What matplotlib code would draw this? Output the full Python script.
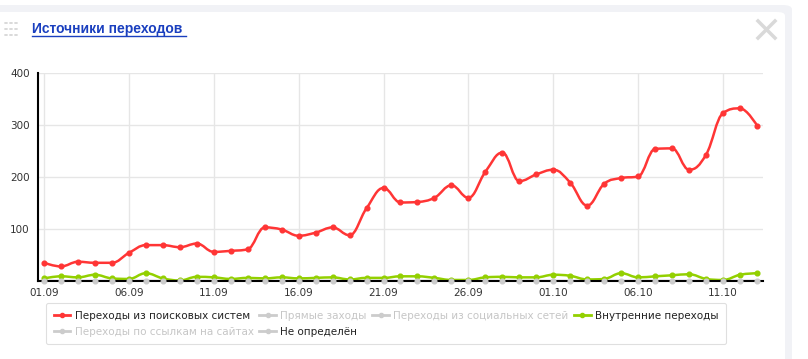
import matplotlib
matplotlib.use("Agg")
import matplotlib.pyplot as plt
import numpy as np
from matplotlib.lines import Line2D
from matplotlib.path import Path
from matplotlib.patches import PathPatch, FancyBboxPatch, Circle

# --- data -------------------------------------------------------------
days = ["01.09", "02.09", "03.09", "04.09", "05.09", "06.09", "07.09", "08.09",
        "09.09", "10.09", "11.09", "12.09", "13.09", "14.09", "15.09", "16.09",
        "17.09", "18.09", "19.09", "20.09", "21.09", "22.09", "23.09", "24.09",
        "25.09", "26.09", "27.09", "28.09", "29.09", "30.09", "01.10", "02.10",
        "03.10", "04.10", "05.10", "06.10", "07.10", "08.10", "09.10", "10.10",
        "11.10", "12.10", "13.10"]
weekend_labels = ["06.09", "26.09", "11.10"]

search = [35, 28, 37, 35, 35, 54, 69, 69, 65, 72, 56, 58, 61, 103, 99, 87,
          93, 103, 88, 140, 179, 151, 152, 160, 184, 160, 210, 247, 192, 205,
          214, 189, 145, 187, 198, 201, 254, 255, 214, 243, 323, 332, 299]
internal = [5, 9, 7, 12, 5, 4, 15, 5, 1, 8, 7, 4, 6, 5, 7, 5, 6, 7, 3, 6,
            6, 9, 9, 6, 2, 2, 7, 8, 7, 7, 12, 10, 3, 4, 15, 7, 9, 11, 13, 4,
            2, 12, 15]
undefined = [0] * len(days)

series_names = ["Переходы из поисковых систем", "Прямые заходы",
                "Переходы из социальных сетей", "Внутренние переходы",
                "Переходы по ссылкам на сайтах", "Не определён"]
hidden = ["Прямые заходы", "Переходы из социальных сетей",
          "Переходы по ссылкам на сайтах"]

RED = "#ff3535"
GREEN = "#93d000"
GREY = "#cccccc"
GRID = "#e6e6e6"

W, H = 808, 359


def spline_path(xs, ys, smoothing=1.5):
    """Cubic bezier path through the points, Highcharts-style spline."""
    denom = smoothing + 1
    n = len(xs)
    left = [(x, y) for x, y in zip(xs, ys)]
    right = [(x, y) for x, y in zip(xs, ys)]
    for i in range(1, n - 1):
        px, py = xs[i], ys[i]
        lx, ly = xs[i - 1], ys[i - 1]
        nx, ny = xs[i + 1], ys[i + 1]
        lcx = (smoothing * px + lx) / denom
        lcy = (smoothing * py + ly) / denom
        rcx = (smoothing * px + nx) / denom
        rcy = (smoothing * py + ny) / denom
        corr = (rcy - lcy) * (rcx - px) / (rcx - lcx) + py - rcy
        lcy += corr
        rcy += corr
        if lcy > ly and lcy > py:
            lcy = max(ly, py)
            rcy = 2 * py - lcy
        elif lcy < ly and lcy < py:
            lcy = min(ly, py)
            rcy = 2 * py - lcy
        if rcy > ny and rcy > py:
            rcy = max(ny, py)
            lcy = 2 * py - rcy
        elif rcy < ny and rcy < py:
            rcy = min(ny, py)
            lcy = 2 * py - rcy
        left[i] = (lcx, lcy)
        right[i] = (rcx, rcy)
    verts = [(xs[0], ys[0])]
    codes = [Path.MOVETO]
    for i in range(1, n):
        verts += [right[i - 1], left[i], (xs[i], ys[i])]
        codes += [Path.CURVE4] * 3
    return Path(verts, codes)


fig = plt.figure(figsize=(W / 100, H / 100), dpi=100)
fig.patch.set_facecolor("white")

# card background
fig.patches.append(FancyBboxPatch((-10 / W, -20 / H), 802 / W, 374 / H,
                                  boxstyle="round,pad=0,rounding_size=0.012",
                                  transform=fig.transFigure, fc="#f1f2f6", ec="none", zorder=-2))
fig.patches.append(FancyBboxPatch((-10 / W, -20 / H), 795 / W, 367 / H,
                                  boxstyle="round,pad=0,rounding_size=0.01",
                                  transform=fig.transFigure, fc="white", ec="none", zorder=-1))

# drag handle dots
for r in range(3):
    for c in range(3):
        fig.patches.append(Circle(((6 + 5 * c) / W, 1 - (23 + 6 * r) / H), 2 / W,
                                  transform=fig.transFigure, fc="#d4d4d4", ec="none"))

fig.text(32 / W, 1 - 29 / H, "Источники переходов", fontsize=10, fontweight="bold",
         family="Liberation Sans", color="#1a3fbf", va="center", ha="left")
fig.add_artist(Line2D([32 / W, 186 / W], [1 - 36 / H, 1 - 36 / H], color="#1a3fbf", lw=1))

# close cross
fig.add_artist(Line2D([758 / W, 775 / W], [1 - 21 / H, 1 - 38 / H], color="#d9d9d9", lw=2.5))
fig.add_artist(Line2D([758 / W, 775 / W], [1 - 38 / H, 1 - 21 / H], color="#d9d9d9", lw=2.5))

# --- plot -------------------------------------------------------------
ax = fig.add_axes([38 / W, 1 - 281 / H, 725 / W, 208 / H])
ax.set_facecolor("none")
x = np.arange(len(days))
n = len(days)
step = 713 / 42
ax.set_xlim(-6 / step, n - 1 + 6 / step)
ax.set_ylim(0, 400)

ax.add_patch(PathPatch(spline_path(x, undefined), fill=False, ec=GREY, lw=1.8, zorder=3))
ax.plot(x, undefined, ls="none", marker="o", ms=3.4, color=GREY, zorder=7, clip_on=False)
ax.add_patch(PathPatch(spline_path(x, internal), fill=False, ec=GREEN, lw=1.8, zorder=4))
ax.plot(x, internal, ls="none", marker="o", ms=3.4, color=GREEN, zorder=4, clip_on=False)
ax.add_patch(PathPatch(spline_path(x, search), fill=False, ec=RED, lw=1.8, zorder=5))
ax.plot(x, search, ls="none", marker="o", ms=3.4, color=RED, zorder=5, clip_on=False)

ax.set_yticks([0, 100, 200, 300, 400])
ax.set_yticklabels(["", "100", "200", "300", "400"])
major = x[::5]
ax.set_xticks(major)
ax.set_xticklabels([days[i] for i in major])
for lbl in ax.get_xticklabels():
    if lbl.get_text() in weekend_labels:
        lbl.set_color("#cc0000")

ax.grid(True, color=GRID, lw=1, zorder=0)
ax.set_axisbelow(True)
ax.tick_params(axis="y", length=0, pad=6, labelsize=7.5, labelcolor="#333333")
ax.tick_params(axis="x", length=0, pad=5, labelsize=7.5, labelcolor="#333333")
for side in ["top", "right"]:
    ax.spines[side].set_visible(False)
for side in ["left", "bottom"]:
    ax.spines[side].set_color("black")
    ax.spines[side].set_linewidth(1.5)
    ax.spines[side].set_zorder(6)

# --- legend -------------------------------------------------------------
colors = {"Переходы из поисковых систем": RED, "Внутренние переходы": GREEN}
order = [0, 4, 1, 5, 2, 3]
handles, labels = [], []
for i in order:
    name = series_names[i]
    c = colors.get(name, GREY)
    handles.append(Line2D([], [], color=c, lw=2, marker="o", ms=3))
    labels.append(name)
leg = fig.legend(handles, labels, ncol=4, loc="upper left",
                 bbox_to_anchor=(46 / W, 1 - 303 / H), frameon=True, fancybox=True,
                 fontsize=7.5, handlelength=1.6, handletextpad=0.4, columnspacing=0.55,
                 labelspacing=0.55, borderpad=0.75, borderaxespad=0)
leg.get_frame().set_edgecolor("#d8d8d8")
leg.get_frame().set_linewidth(0.8)
for t in leg.get_texts():
    t.set_color("#c6c6c6" if t.get_text() in hidden else "#222222")

fig.savefig("out.png", dpi=100)
